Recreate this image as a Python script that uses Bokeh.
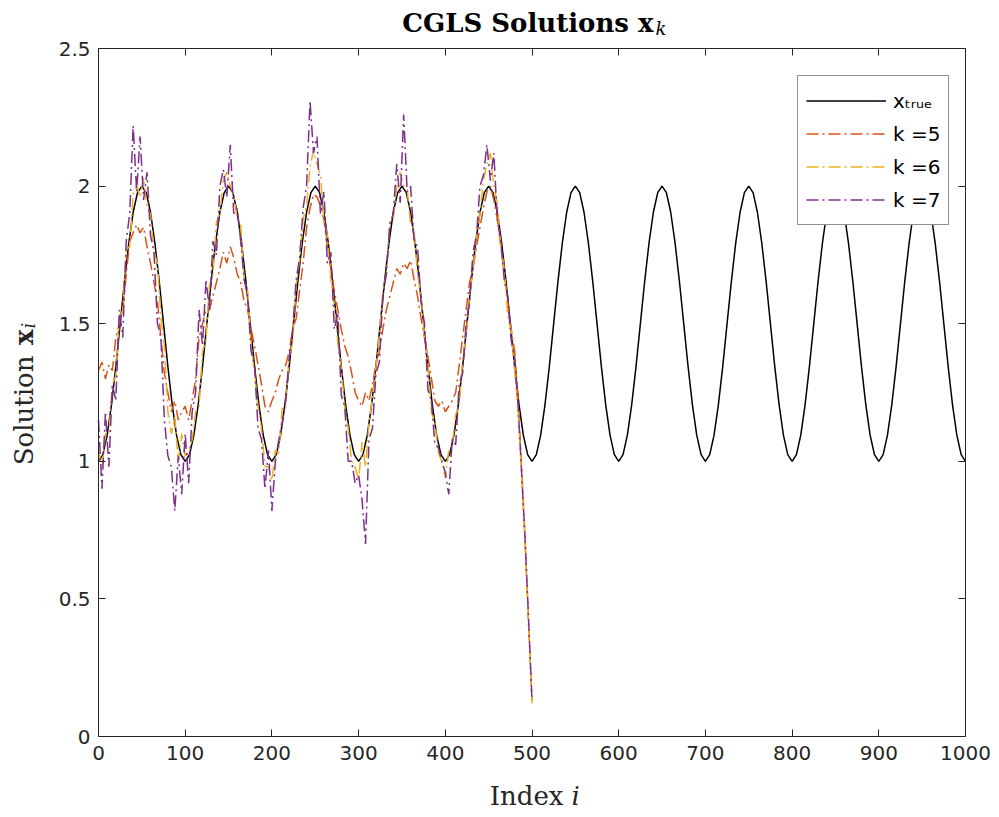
import math
from bokeh.plotting import figure
from bokeh.models import (Range1d, LinearAxis, Label, Legend, LegendItem,
                          FixedTicker, CustomJSTickFormatter)
from bokeh.embed import file_html
from bokeh.resources import INLINE

# ---------------- data ----------------
X_TICKS = [0, 100, 200, 300, 400, 500, 600, 700, 800, 900, 1000]
Y_TICKS = [0, 0.5, 1, 1.5, 2, 2.5]

I_TRUE = list(range(0, 1001, 5))
X_TRUE = [
    1.000, 1.024, 1.095, 1.206, 1.345, 1.500, 1.655, 1.794, 1.905, 1.976, 2.000, 1.976, 1.905, 1.794, 1.655, 1.500, 1.345, 1.206, 1.095, 1.024,
    1.000, 1.024, 1.095, 1.206, 1.345, 1.500, 1.655, 1.794, 1.905, 1.976, 2.000, 1.976, 1.905, 1.794, 1.655, 1.500, 1.345, 1.206, 1.095, 1.024,
    1.000, 1.024, 1.095, 1.206, 1.345, 1.500, 1.655, 1.794, 1.905, 1.976, 2.000, 1.976, 1.905, 1.794, 1.655, 1.500, 1.345, 1.206, 1.095, 1.024,
    1.000, 1.024, 1.095, 1.206, 1.345, 1.500, 1.655, 1.794, 1.905, 1.976, 2.000, 1.976, 1.905, 1.794, 1.655, 1.500, 1.345, 1.206, 1.095, 1.024,
    1.000, 1.024, 1.095, 1.206, 1.345, 1.500, 1.655, 1.794, 1.905, 1.976, 2.000, 1.976, 1.905, 1.794, 1.655, 1.500, 1.345, 1.206, 1.095, 1.024,
    1.000, 1.024, 1.095, 1.206, 1.345, 1.500, 1.655, 1.794, 1.905, 1.976, 2.000, 1.976, 1.905, 1.794, 1.655, 1.500, 1.345, 1.206, 1.095, 1.024,
    1.000, 1.024, 1.095, 1.206, 1.345, 1.500, 1.655, 1.794, 1.905, 1.976, 2.000, 1.976, 1.905, 1.794, 1.655, 1.500, 1.345, 1.206, 1.095, 1.024,
    1.000, 1.024, 1.095, 1.206, 1.345, 1.500, 1.655, 1.794, 1.905, 1.976, 2.000, 1.976, 1.905, 1.794, 1.655, 1.500, 1.345, 1.206, 1.095, 1.024,
    1.000, 1.024, 1.095, 1.206, 1.345, 1.500, 1.655, 1.794, 1.905, 1.976, 2.000, 1.976, 1.905, 1.794, 1.655, 1.500, 1.345, 1.206, 1.095, 1.024,
    1.000, 1.024, 1.095, 1.206, 1.345, 1.500, 1.655, 1.794, 1.905, 1.976, 2.000, 1.976, 1.905, 1.794, 1.655, 1.500, 1.345, 1.206, 1.095, 1.024,
    1.000,
]

I_K = list(range(0, 501, 4))
K5 = [
    1.33, 1.36, 1.30, 1.35, 1.33, 1.45, 1.50, 1.55, 1.68, 1.80, 1.83, 1.86, 1.83, 1.85, 1.78, 1.72, 1.65, 1.58, 1.45, 1.32, 1.25, 1.18, 1.22, 1.15, 1.18,
    1.20, 1.15, 1.22, 1.30, 1.45, 1.50, 1.55, 1.55, 1.60, 1.65, 1.70, 1.76, 1.72, 1.78, 1.74, 1.68, 1.65, 1.58, 1.55, 1.48, 1.42, 1.35, 1.28, 1.20, 1.18,
    1.22, 1.25, 1.30, 1.33, 1.35, 1.40, 1.48, 1.52, 1.62, 1.72, 1.85, 1.92, 1.97, 1.96, 1.93, 1.88, 1.78, 1.70, 1.62, 1.55, 1.48, 1.42, 1.38, 1.32, 1.25,
    1.22, 1.20, 1.25, 1.22, 1.28, 1.35, 1.40, 1.48, 1.55, 1.60, 1.65, 1.70, 1.68, 1.72, 1.70, 1.73, 1.66, 1.60, 1.52, 1.45, 1.38, 1.30, 1.22, 1.20, 1.22,
    1.18, 1.20, 1.22, 1.25, 1.35, 1.45, 1.55, 1.65, 1.70, 1.78, 1.85, 1.92, 1.98, 2.00, 1.95, 1.88, 1.78, 1.68, 1.58, 1.48, 1.40, 1.22, 0.98, 0.72, 0.42,
    0.13,
]
K6 = [
    1.04, 0.97, 1.10, 1.10, 1.28, 1.31, 1.52, 1.55, 1.77, 1.78, 1.97, 2.00, 1.96, 2.03, 1.92, 1.90, 1.76, 1.72, 1.52, 1.42, 1.18, 1.10, 1.16, 1.00, 1.10,
    1.02, 1.03, 1.08, 1.18, 1.20, 1.40, 1.44, 1.64, 1.68, 1.87, 1.90, 2.02, 2.05, 2.00, 1.97, 1.88, 1.86, 1.66, 1.62, 1.43, 1.32, 1.20, 1.12, 0.98, 0.98,
    0.93, 1.04, 1.03, 1.20, 1.20, 1.38, 1.43, 1.64, 1.73, 1.88, 1.93, 2.07, 2.13, 2.08, 2.04, 1.88, 1.82, 1.66, 1.57, 1.43, 1.34, 1.20, 1.12, 1.00, 0.98,
    0.93, 1.07, 0.98, 1.14, 1.23, 1.34, 1.46, 1.62, 1.68, 1.87, 1.88, 2.00, 2.05, 2.00, 1.99, 1.86, 1.84, 1.68, 1.60, 1.46, 1.35, 1.18, 1.14, 1.03, 1.00,
    0.94, 1.04, 1.06, 1.17, 1.20, 1.37, 1.46, 1.60, 1.70, 1.82, 1.90, 2.02, 2.08, 2.12, 2.00, 1.94, 1.78, 1.70, 1.53, 1.47, 1.33, 1.18, 0.95, 0.70, 0.40,
    0.12,
]
K7 = [
    1.15, 0.90, 1.18, 0.98, 1.28, 1.22, 1.55, 1.45, 1.80, 1.90, 2.22, 1.98, 2.18, 1.95, 2.05, 1.82, 1.76, 1.50, 1.45, 1.15, 1.02, 0.98, 0.82, 1.02, 0.88,
    1.10, 0.92, 1.18, 1.25, 1.55, 1.42, 1.66, 1.55, 1.80, 1.75, 2.00, 2.06, 1.96, 2.15, 1.90, 1.92, 1.80, 1.66, 1.60, 1.40, 1.35, 1.12, 1.08, 0.90, 1.04,
    0.82, 1.00, 1.08, 1.14, 1.22, 1.38, 1.48, 1.66, 1.74, 1.92, 2.00, 2.31, 2.12, 2.18, 1.90, 1.98, 1.72, 1.76, 1.48, 1.54, 1.24, 1.20, 1.00, 1.00, 0.92,
    0.95, 0.86, 0.70, 1.08, 1.12, 1.32, 1.36, 1.60, 1.68, 1.86, 1.90, 2.08, 1.94, 2.26, 1.98, 2.00, 1.80, 1.78, 1.58, 1.50, 1.26, 1.22, 1.06, 1.05, 1.00,
    0.96, 0.88, 1.08, 1.06, 1.28, 1.32, 1.50, 1.58, 1.76, 1.82, 2.00, 2.04, 2.15, 2.02, 2.12, 1.88, 1.80, 1.66, 1.60, 1.44, 1.38, 1.20, 0.96, 0.72, 0.43,
    0.13,
]

TRUE_LABEL = "x\u209c\u1d63\u1d64\u2091"   # x with subscript "true"
SERIES_LABELS = ["k =5", "k =6", "k =7"]
SERIES_VALUES = [K5, K6, K7]
SERIES_COLORS = ["#D95319", "#EDB120", "#7E2F8E"]

# ---------------- geometry of the axes box (pixels) ----------------
W, H = 999, 817
L, R, T, B = 98, 965, 48, 736
XMIN, XMAX = 0.0, 1000.0
YMIN, YMAX = 0.0, 2.5
KX = (XMAX - XMIN) / (R - L)
KY = (YMAX - YMIN) / (B - T)


def dx(px):
    return XMIN + (px - L) * KX


def dy(py):
    return YMIN + (B - py) * KY


AX = "#262626"
# the frame fills the whole canvas; the axes box is drawn by fixed-location axes
p = figure(width=W, height=H, output_backend="svg", toolbar_location=None,
           x_range=Range1d(dx(0), dx(W)), y_range=Range1d(dy(H), dy(0)), title=None,
           x_axis_location=None, y_axis_location=None,
           min_border_left=0, min_border_right=0, min_border_top=0,
           min_border_bottom=0)
p.grid.visible = False
p.outline_line_color = None
p.background_fill_color = "white"
p.border_fill_color = "white"

fmt = CustomJSTickFormatter(code="return tick.toString()")


def make_axis(ticks, bounds, loc, show):
    ax = LinearAxis(fixed_location=loc, bounds=bounds)
    ax.ticker = FixedTicker(ticks=ticks)
    ax.major_tick_in = 7
    ax.major_tick_out = 0
    ax.minor_tick_line_color = None
    ax.axis_line_color = AX
    ax.axis_line_width = 1
    ax.major_tick_line_color = AX
    ax.major_tick_line_width = 1
    if show:
        ax.formatter = fmt
        ax.major_label_text_font = "DejaVu Sans"
        ax.major_label_text_font_size = "20px"
        ax.major_label_text_color = AX
    else:
        ax.formatter = CustomJSTickFormatter(code="return ''")
        ax.major_label_text_font_size = "0px"
        ax.major_label_text_color = None
        ax.major_label_standoff = 0
    return ax


xb = make_axis(X_TICKS, (XMIN, XMAX), YMIN, True)
xb.major_label_standoff = 9
p.add_layout(xb, "below")
yl = make_axis(Y_TICKS, (YMIN, YMAX), XMIN, True)
yl.major_label_standoff = 8
p.add_layout(yl, "left")
p.add_layout(make_axis(X_TICKS, (XMIN, XMAX), YMAX, False), "above")
p.add_layout(make_axis(Y_TICKS, (YMIN, YMAX), XMAX, False), "right")

# ---------------- lines ----------------
r_true = p.line(I_TRUE, X_TRUE, line_color="black", line_width=1.5)
renderers = []
for lab, vals, col in zip(SERIES_LABELS, SERIES_VALUES, SERIES_COLORS):
    r = p.line(I_K, vals, line_color=col, line_width=1.5, line_dash="12 4 2 4")
    renderers.append(r)

items = [LegendItem(label=TRUE_LABEL, renderers=[r_true])]
for lab, r in zip(SERIES_LABELS, renderers):
    items.append(LegendItem(label=lab, renderers=[r]))

legend = Legend(items=items, location=(797, H - 225),
                label_text_font="DejaVu Sans", label_text_font_size="20px",
                label_text_color="black",
                glyph_width=80, glyph_height=33, label_height=33, label_width=45,
                label_standoff=7, spacing=0, padding=8, margin=0,
                border_line_color=AX, border_line_width=1,
                background_fill_color="white", background_fill_alpha=1.0)
p.add_layout(legend)

SERIF = "DejaVu Serif"


def lab(px, py, text, size, font=SERIF, style="normal", align="left", angle=0.0,
        color=AX):
    p.add_layout(Label(x=dx(px), y=dy(py), text=text, text_font=font,
                       text_font_size=size, text_font_style=style, text_color=color,
                       angle=angle, text_align=align, text_baseline="alphabetic"))


# title
lab(653, 22, "CGLS Solutions x", "26px", style="bold", align="right", color="black")
lab(655, 28, "k", "18px", style="italic", color="black")

# x label
lab(563, 795, "Index", "26px", align="right")
lab(571, 795, "i", "26px", style="italic")

# y label (rotated)
lab(23, 355, "Solution", "26px", align="right", angle=math.pi / 2)
lab(23, 329, "x", "26px", style="bold", align="right", angle=math.pi / 2)
lab(28, 328, "i", "18px", style="italic", angle=math.pi / 2)

open("out.html", "w").write(file_html(p, INLINE))
